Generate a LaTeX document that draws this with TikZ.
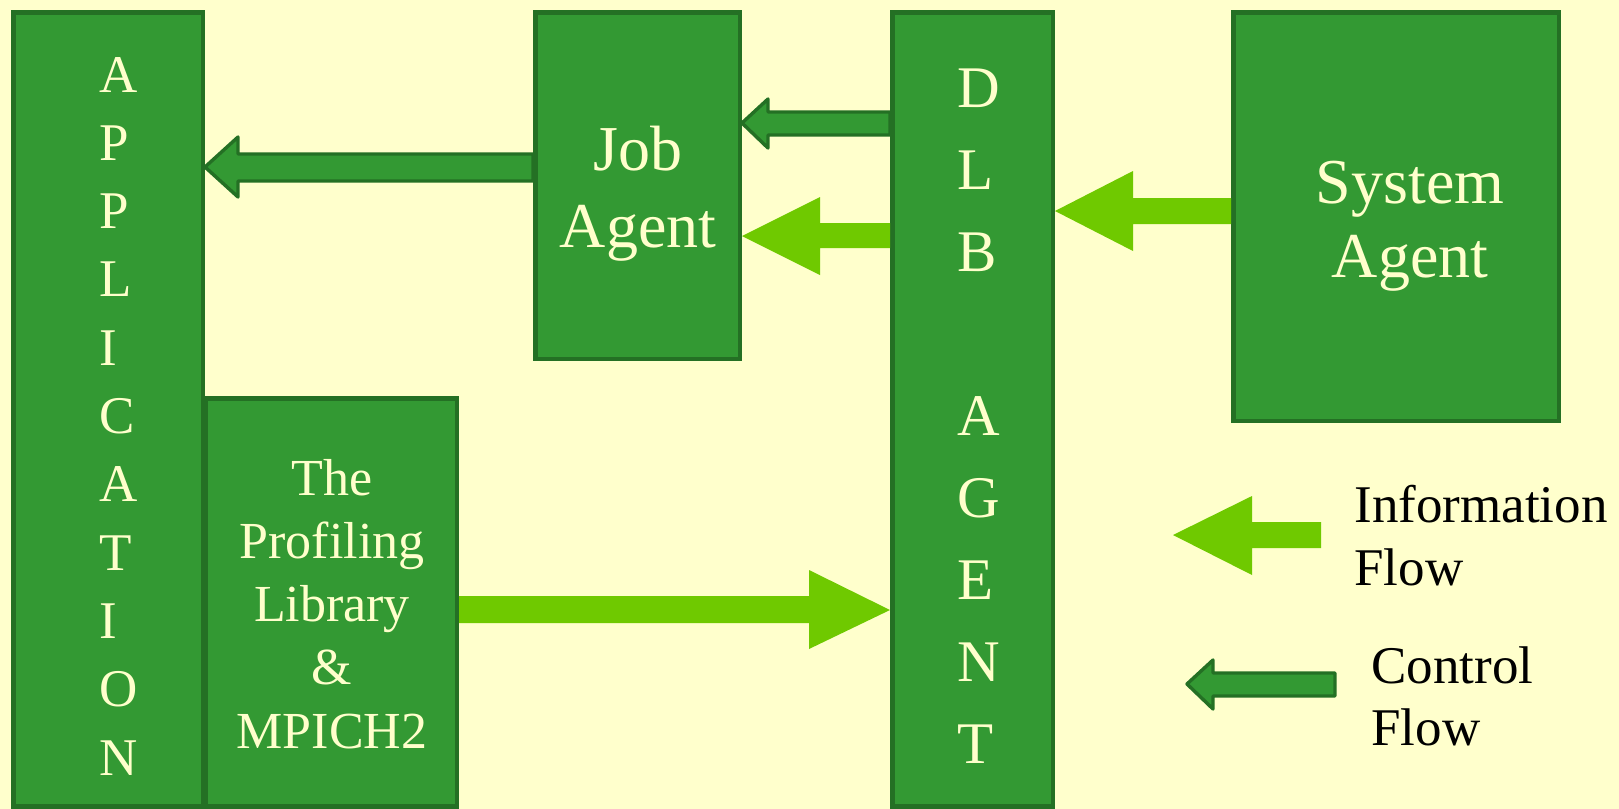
\documentclass[tikz,border=0pt]{standalone}
\usepackage{fontspec}
\setmainfont{Liberation Serif}
\usetikzlibrary{calc}

\definecolor{bgyellow}{RGB}{255,255,204}
\definecolor{boxgreen}{RGB}{51,153,51}
\definecolor{boxedge}{RGB}{36,112,36}
\definecolor{infogreen}{RGB}{111,201,0}

\tikzset{
	box/.style={draw=boxedge, fill=boxgreen, line width=2.25pt, anchor=north west, inner sep=0pt},
	boxtext/.style={text=bgyellow, inner sep=0pt},
	legendtext/.style={text=black, inner sep=0pt, align=left, anchor=base west},
	ctrlflow/.style={draw=boxedge, fill=boxgreen, line width=1.7pt, line join=round},
	infoflow/.style={fill=infogreen},
}

\begin{document}
\begin{tikzpicture}[x=0.5pt,y=-0.5pt]
		\fill[bgyellow] (0,0) rectangle (1619,809);
		\useasboundingbox (0,0) rectangle (1619,809);
		% boxes
		\node[box, minimum width=94.75pt, minimum height=397pt] (app) at (11,10) {};
		\node[box, minimum width=125.75pt, minimum height=204pt] (prof) at (203,396) {};
		\node[box, minimum width=102.25pt, minimum height=173.25pt] (job) at (533,10) {};
		\node[box, minimum width=80.25pt, minimum height=397pt] (dlb) at (890,10) {};
		\node[box, minimum width=162.75pt, minimum height=204.25pt] (sys) at (1231,10) {};
		% box texts (anchored at the last line)
		\node[boxtext, align=left, anchor=base west, font=\fontsize{26.5pt}{34.15pt}\selectfont] (apptext) at (99,775) {A\\P\\P\\L\\I\\C\\A\\T\\I\\O\\N};
		\node[boxtext, align=center, anchor=base, font=\fontsize{26pt}{31.6pt}\selectfont] (proftext) at (332,748) {The\\Profiling\\Library\\\&\\MPICH2};
		\node[boxtext, align=center, anchor=base, font=\fontsize{32pt}{38.5pt}\selectfont] (jobtext) at (638,247) {Job\\Agent};
		\node[boxtext, align=left, anchor=base west, font=\fontsize{29.5pt}{41pt}\selectfont] (dlbtext) at (957,763) {D\\L\\B\\[41pt]A\\G\\E\\N\\T};
		\node[boxtext, align=center, anchor=base, font=\fontsize{32pt}{37pt}\selectfont] (systext) at (1410,277) {System\\Agent};
		% control flow
		\draw[ctrlflow] (app.east |- 0,167) -- (238,137) -- (238,154) -- (job.west |- 0,154) -- (job.west |- 0,181) -- (238,181) -- (238,197) -- cycle;
		\draw[ctrlflow] (job.east |- 0,123) -- (768,99) -- (768,112) -- (dlb.west |- 0,112) -- (dlb.west |- 0,135) -- (768,135) -- (768,148) -- cycle;
		% information flow
		\fill[infoflow] (job.east |- 0,236) -- (820,197) -- (820,223) -- (dlb.west |- 0,223) -- (dlb.west |- 0,248) -- (820,248) -- (820,275) -- cycle;
		\fill[infoflow] (dlb.east |- 0,211) -- (1133,171) -- (1133,198) -- (sys.west |- 0,198) -- (sys.west |- 0,224) -- (1133,224) -- (1133,251) -- cycle;
		\fill[infoflow] (prof.east |- 0,596) -- (809,596) -- (809,570) -- (dlb.west |- 0,610) -- (809,649) -- (809,623) -- (prof.east |- 0,623) -- cycle;
		% legend
		\fill[infoflow] (1173,535) -- (1252,496) -- (1252,522) -- (1321,522) -- (1321,548) -- (1252,548) -- (1252,575) -- cycle;
		\draw[ctrlflow] (1187,684) -- (1213,660) -- (1213,673) -- (1335,673) -- (1335,696) -- (1213,696) -- (1213,709) -- cycle;
		\node[legendtext, font=\fontsize{26.5pt}{31.5pt}\selectfont] (infolabel) at (1354,585) {Information\\Flow};
		\node[legendtext, font=\fontsize{26.5pt}{31pt}\selectfont] (ctrllabel) at (1371,745) {Control\\Flow};
	\end{tikzpicture}
\end{document}
